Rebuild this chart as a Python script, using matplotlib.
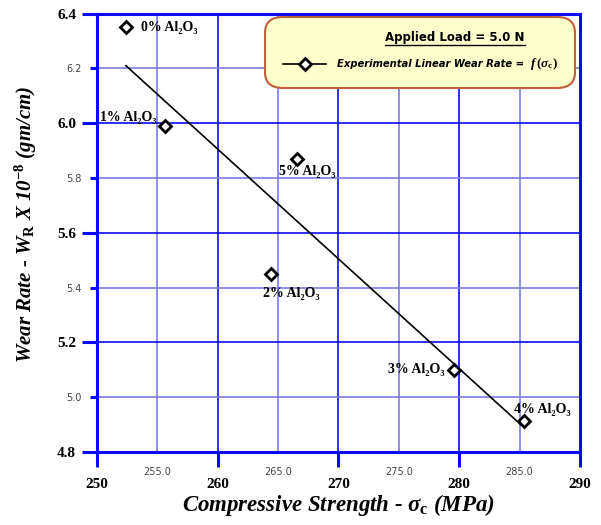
import matplotlib
matplotlib.use("Agg")
import matplotlib.pyplot as plt
from matplotlib.patches import FancyBboxPatch
from matplotlib.lines import Line2D

# data
strength = [252.4, 255.6, 264.4, 279.6, 285.35, 266.6]
wear_rate = [6.35, 5.99, 5.45, 5.10, 4.915, 5.87]
labels = ['0% Al₂O₃', '1% Al₂O₃', '2% Al₂O₃', '3% Al₂O₃', '4% Al₂O₃', '5% Al₂O₃']

# linear fit end points
fit_x = [252.4, 285.1]
fit_y = [6.21, 4.90]

major_x = [250, 260, 270, 280, 290]
minor_x = [255, 265, 275, 285]
major_y = [4.8, 5.2, 5.6, 6.0, 6.4]
minor_y = [5.0, 5.4, 5.8, 6.2]

BLUE = '#0a0aff'
LIGHT = '#7c7ce0'
SERIF = ['Liberation Serif', 'DejaVu Serif']

plt.rcParams['mathtext.fontset'] = 'custom'
plt.rcParams['mathtext.rm'] = 'Liberation Serif:bold'
plt.rcParams['mathtext.it'] = 'Liberation Serif:italic:bold'
plt.rcParams['mathtext.bf'] = 'Liberation Serif:bold'

fig = plt.figure(figsize=(6.01, 5.25), dpi=100)
ax = fig.add_axes([0.1614, 0.139, 0.8036, 0.835])

ax.set_xlim(250, 290)
ax.set_ylim(4.8, 6.4)

# grid
for v in major_x:
    ax.axvline(v, color=BLUE, lw=1.2, zorder=1)
for v in minor_x:
    ax.axvline(v, color=LIGHT, lw=1.2, zorder=1)
for v in major_y:
    ax.axhline(v, color=BLUE, lw=1.2, zorder=1)
for v in minor_y:
    ax.axhline(v, color=LIGHT, lw=1.2, zorder=1)

for s in ax.spines.values():
    s.set_color(BLUE)
    s.set_linewidth(2.2)

ax.set_xticks(major_x)
ax.set_xticklabels([str(v) for v in major_x], fontfamily=SERIF, fontweight='bold', fontsize=11)
ax.set_xticks(minor_x, minor=True)
ax.set_xticklabels(['%.1f' % v for v in minor_x], minor=True, fontfamily='DejaVu Sans',
                   fontsize=7, color='#444444')
ax.set_yticks(major_y)
ax.set_yticklabels(['%.1f' % v for v in major_y], fontfamily=SERIF, fontweight='bold', fontsize=11)
ax.set_yticks(minor_y, minor=True)
ax.set_yticklabels(['%.1f' % v for v in minor_y], minor=True, fontfamily='DejaVu Sans',
                   fontsize=7, color='#444444')

ax.tick_params(axis='x', which='major', direction='out', length=11, width=2.2, color=BLUE, pad=8)
ax.tick_params(axis='x', which='minor', length=0, pad=11)
ax.tick_params(axis='y', which='major', direction='out', length=11, width=2.2, color=BLUE, pad=4)
ax.tick_params(axis='y', which='minor', direction='out', length=5, width=2.2, color=BLUE, pad=6)

# fit line and points
ax.plot(fit_x, fit_y, color='black', lw=1.2, zorder=3)
ax.plot(strength, wear_rate, ls='none', marker='D', ms=6.5, mfc='white', mec='black',
        mew=2, zorder=4)

# label offsets in pixels (dx, dy) and alignment
offsets = [(15, 0, 'left'), (-8, 8, 'right'), (20, -20, 'center'),
           (-10, 0, 'right'), (18, 11, 'center'), (10, -13, 'center')]
for x, y, lab, (dx, dy, ha) in zip(strength, wear_rate, labels, offsets):
    ax.annotate(lab, (x, y), xytext=(dx * 0.72, dy * 0.72), textcoords='offset points',
                ha=ha, va='center', fontfamily=SERIF, fontweight='bold', fontsize=10, zorder=5)

# legend box
box = FancyBboxPatch((265 / 601, 1 - 88 / 525), (575 - 265) / 601, (88 - 17) / 525,
                     boxstyle='round,pad=0,rounding_size=0.03', transform=fig.transFigure,
                     facecolor='#ffffcc', edgecolor='#c0603a', lw=1.5, zorder=10)
fig.patches.append(box)
fig.text(455 / 601, 1 - 38 / 525, 'Applied Load = 5.0 N', ha='center', va='center',
         fontfamily='DejaVu Sans', fontweight='bold', fontsize=8.5, zorder=11)
fig.add_artist(Line2D([385 / 601, 525 / 601], [1 - 45 / 525, 1 - 45 / 525], color='black', lw=1,
                      transform=fig.transFigure, zorder=11))
fig.add_artist(Line2D([283 / 601, 326 / 601], [1 - 64 / 525, 1 - 64 / 525], color='black', lw=1.2,
                      transform=fig.transFigure, zorder=11))
fig.add_artist(Line2D([304.5 / 601], [1 - 64 / 525], ls='none', marker='D', ms=6, mfc='white',
                      mec='black', mew=2, transform=fig.transFigure, zorder=12))
fig.text(337 / 601, 1 - 64 / 525, 'Experimental Linear Wear Rate =',
         ha='left', va='center', fontfamily='DejaVu Sans', fontstyle='italic', fontweight='bold',
         fontsize=7.2, zorder=11)
fig.text(530 / 601, 1 - 64 / 525, r'$f\,$($\sigma_{\rm c}$)',
         ha='left', va='center', fontfamily=SERIF, fontweight='bold',
         fontsize=9.5, zorder=11)

ax.set_xlabel(r'Compressive Strength - $\sigma_{\rm c}$ (MPa)', fontfamily=SERIF,
              fontstyle='italic', fontweight='bold', fontsize=16.5)
ax.xaxis.set_label_coords(0.5, -0.092)
ax.set_ylabel(r'Wear Rate - $W_{\rm R}$ X 10$^{-8}$ (gm/cm)', fontfamily=SERIF,
              fontstyle='italic', fontweight='bold', fontsize=15)
ax.yaxis.set_label_coords(-0.121, 0.52)

fig.savefig('out.png', dpi=100)
